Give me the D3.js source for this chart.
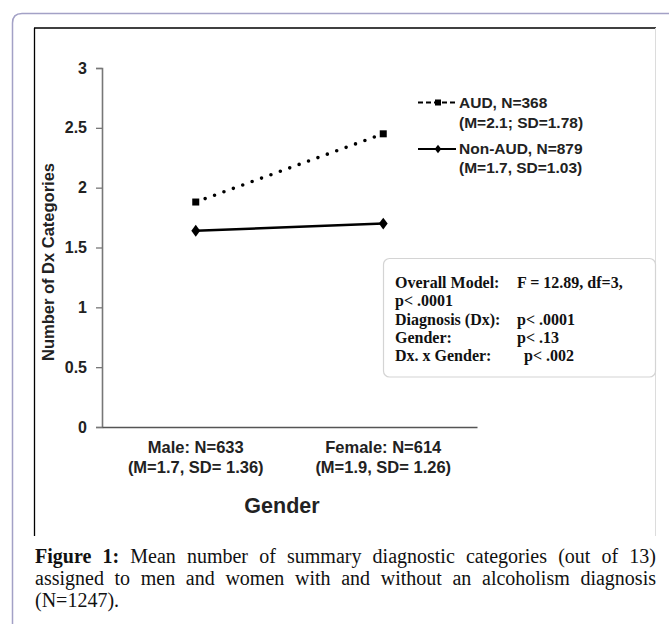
<!DOCTYPE html>
<html>
<head>
<meta charset="utf-8">
<script src="https://cdn.jsdelivr.net/npm/d3@7"></script>
<style>
  body { margin: 0; background: #fff; }
  svg { display: block; }
</style>
</head>
<body>
<script>
// chart data
const categories = ["Male", "Female"];
const catLine1 = ["Male: N=633", "Female: N=614"];
const catLine2 = ["(M=1.7, SD= 1.36)", "(M=1.9, SD= 1.26)"];
const audValues = [1.88, 2.45];
const nonAudValues = [1.64, 1.70];
const yTicks = [0, 0.5, 1, 1.5, 2, 2.5, 3];
const legendLabels = [["AUD, N=368", "(M=2.1; SD=1.78)"], ["Non-AUD, N=879", "(M=1.7, SD=1.03)"]];
const statsLines = [
  ["Overall Model:", "F = 12.89, df=3,"],
  ["p< .0001", ""],
  ["Diagnosis (Dx):", "p< .0001"],
  ["Gender:", "p< .13"],
  ["Dx. x Gender:", "p< .002"]
];
const captionLines = [
  "Mean number of summary diagnostic categories (out of 13)",
  "assigned to men and women with and without an alcoholism diagnosis",
  "(N=1247)."
];

var width = 669;
var height = 624;
var sans = "'Liberation Sans', Arial, sans-serif";
var serif = "'Liberation Serif', 'Times New Roman', serif";

var svg = d3.select('body').append('svg')
  .attr('width', width)
  .attr('height', height);

// outer rounded frame
svg.append('path')
  .attr('d', 'M12.5,624 L12.5,23 Q12.5,13.5 22,13.5 L669,13.5')
  .attr('fill', 'none')
  .attr('stroke', '#a3a1c6')
  .attr('stroke-width', 1.5);

// figure frame
svg.append('line').attr('x1', 34).attr('y1', 28).attr('x2', 656).attr('y2', 28)
  .attr('stroke', '#000').attr('stroke-width', 1.3);
svg.append('line').attr('x1', 34.5).attr('y1', 28).attr('x2', 34.5).attr('y2', 536)
  .attr('stroke', '#000').attr('stroke-width', 1.3);
svg.append('line').attr('x1', 655.5).attr('y1', 28).attr('x2', 655.5).attr('y2', 536)
  .attr('stroke', '#dcdcdc').attr('stroke-width', 1);

var xScale = d3.scalePoint()
  .domain(categories)
  .range([102, 477])
  .padding(0.5);

var yScale = d3.scaleLinear()
  .domain([0, 3])
  .range([427, 68]);

// y axis
var yAxis = svg.append('g')
  .attr('transform', 'translate(102,0)')
  .call(d3.axisLeft(yScale).tickValues(yTicks).tickFormat(d3.format('')).tickSize(6).tickPadding(9));
yAxis.select('.domain').attr('stroke', '#777').attr('stroke-width', 1.6);
yAxis.selectAll('.tick line').attr('stroke', '#777').attr('stroke-width', 1.3);
yAxis.selectAll('.tick text')
  .attr('font-family', sans).attr('font-size', 16).attr('font-weight', 'bold').attr('fill', '#222');

// x axis
var xAxis = svg.append('g')
  .attr('transform', 'translate(0,427)')
  .call(d3.axisBottom(xScale).tickSize(0).tickFormat(''));
xAxis.select('.domain').attr('stroke', '#555').attr('stroke-width', 1.6);

categories.forEach((c, i) => {
  svg.append('text')
    .attr('x', xScale(c)).attr('y', 453)
    .attr('text-anchor', 'middle')
    .attr('font-family', sans).attr('font-size', 16.5).attr('font-weight', 'bold').attr('fill', '#222')
    .text(catLine1[i]);
  svg.append('text')
    .attr('x', xScale(c)).attr('y', 473)
    .attr('text-anchor', 'middle')
    .attr('font-family', sans).attr('font-size', 16.5).attr('font-weight', 'bold').attr('fill', '#222')
    .text(catLine2[i]);
});

svg.append('text')
  .attr('x', 282).attr('y', 513)
  .attr('text-anchor', 'middle')
  .attr('font-family', sans).attr('font-size', 21.5).attr('font-weight', 'bold').attr('fill', '#222')
  .text('Gender');

svg.append('text')
  .attr('transform', 'translate(54,262) rotate(-90)')
  .attr('text-anchor', 'middle')
  .attr('font-family', sans).attr('font-size', 16.5).attr('font-weight', 'bold').attr('fill', '#222')
  .text('Number of Dx Categories');

// lines
var line = d3.line()
  .x((d, i) => xScale(categories[i]))
  .y(d => yScale(d));

svg.append('path')
  .datum(audValues)
  .attr('d', line)
  .attr('fill', 'none')
  .attr('stroke', '#000')
  .attr('stroke-width', 3.6)
  .attr('stroke-linecap', 'round')
  .attr('stroke-dasharray', '0 10');

svg.append('path')
  .datum(nonAudValues)
  .attr('d', line)
  .attr('fill', 'none')
  .attr('stroke', '#000')
  .attr('stroke-width', 2.4);

svg.selectAll('.sq')
  .data(audValues)
  .enter()
  .append('rect')
  .attr('x', (d, i) => xScale(categories[i]) - 3.5)
  .attr('y', d => yScale(d) - 3.5)
  .attr('width', 7)
  .attr('height', 7)
  .attr('fill', '#000');

var diamond = d3.symbol().type(d3.symbolDiamond).size(40);
svg.selectAll('.dm')
  .data(nonAudValues)
  .enter()
  .append('path')
  .attr('d', diamond)
  .attr('transform', (d, i) => 'translate(' + xScale(categories[i]) + ',' + yScale(d) + ') scale(1.3,1)')
  .attr('fill', '#000');

// legend
svg.append('line').attr('x1', 418).attr('y1', 102.5).attr('x2', 457).attr('y2', 102.5)
  .attr('stroke', '#000').attr('stroke-width', 2).attr('stroke-dasharray', '5 3');
svg.append('rect').attr('x', 435).attr('y', 99.5).attr('width', 6).attr('height', 6).attr('fill', '#000');
svg.append('line').attr('x1', 418).attr('y1', 149).attr('x2', 456).attr('y2', 149)
  .attr('stroke', '#000').attr('stroke-width', 2.2);
svg.append('path').attr('d', d3.symbol().type(d3.symbolDiamond).size(22))
  .attr('transform', 'translate(438,149) scale(1.3,1)').attr('fill', '#000');

legendLabels.forEach((lab, i) => {
  var y0 = i === 0 ? 108 : 153.5;
  svg.append('text')
    .attr('x', 459).attr('y', y0)
    .attr('font-family', sans).attr('font-size', 15.5).attr('font-weight', 'bold').attr('fill', '#222')
    .text(lab[0]);
  svg.append('text')
    .attr('x', 459).attr('y', y0 + 19.5)
    .attr('font-family', sans).attr('font-size', 15.5).attr('font-weight', 'bold').attr('fill', '#222')
    .text(lab[1]);
});

// stats box
svg.append('rect')
  .attr('x', 383.5).attr('y', 258.5).attr('width', 272).attr('height', 118.5)
  .attr('rx', 6)
  .attr('fill', '#fff')
  .attr('stroke', '#d4d4d4')
  .attr('stroke-width', 1.2);

var statX2 = [517, null, 517, 517, 524];
statsLines.forEach((s, i) => {
  var y0 = 288 + i * 18.3;
  svg.append('text')
    .attr('x', 395).attr('y', y0)
    .attr('font-family', serif).attr('font-size', 16).attr('font-weight', 'bold').attr('fill', '#111')
    .text(s[0]);
  if (s[1]) {
    svg.append('text')
      .attr('x', statX2[i]).attr('y', y0)
      .attr('font-family', serif).attr('font-size', 16).attr('font-weight', 'bold').attr('fill', '#111')
      .text(s[1]);
  }
});

// caption, justified to the frame width
var capLeft = 35, capRight = 656;
captionLines.forEach((txt, i) => {
  var t = svg.append('text')
    .attr('x', capLeft).attr('y', 563 + i * 21.8)
    .attr('font-family', serif).attr('font-size', 20).attr('fill', '#111');
  if (i === 0) {
    t.append('tspan').attr('font-weight', 'bold').text('Figure 1: ');
  }
  t.append('tspan').text(txt);
  if (i < captionLines.length - 1) {
    var natural = t.node().getComputedTextLength();
    var full = (i === 0 ? 'Figure 1: ' : '') + txt;
    var spaces = (full.trim().match(/ /g) || []).length;
    var extra = (capRight - capLeft - natural) / spaces;
    t.attr('word-spacing', extra);
  }
});
</script>
</body>
</html>
